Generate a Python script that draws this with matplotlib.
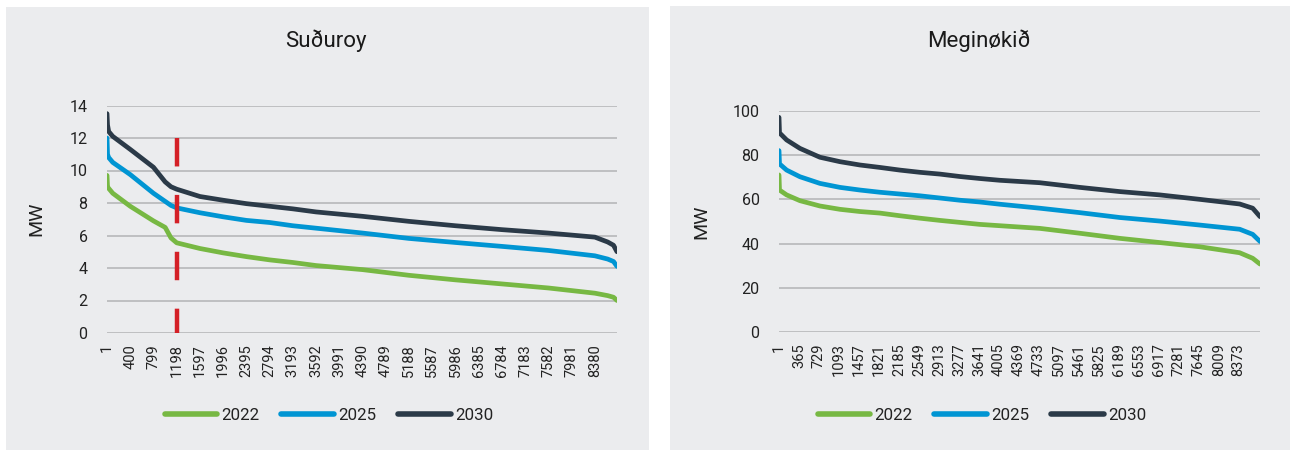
import matplotlib
matplotlib.use("Agg")
import matplotlib.pyplot as plt
from matplotlib.patches import Rectangle
from matplotlib.lines import Line2D

plt.rcParams['font.family'] = ['Roboto', 'DejaVu Sans']

# ---------------- data ----------------
series_names = ["2022", "2025", "2030"]
colors = ["#77B843", "#0095D3", "#2B3A48"]

# Suðuroy (left)
left_title = "Suðuroy"
left_hours = [1, 10, 30, 100, 400, 799, 1000, 1100, 1198, 1597, 1996, 2395, 2794, 3193,
              3592, 4390, 5188, 5986, 6784, 7582, 8380, 8600, 8700, 8760]
left_2022 = [9.7, 9.0, 8.9, 8.6, 7.8, 6.9, 6.5, 5.85, 5.55, 5.2, 4.93, 4.7, 4.5, 4.34,
             4.15, 3.9, 3.55, 3.27, 3.02, 2.77, 2.45, 2.3, 2.2, 2.0]
left_2025 = [12.0, 11.0, 10.8, 10.5, 9.75, 8.6, 8.1, 7.85, 7.7, 7.4, 7.15, 6.93, 6.8, 6.6,
             6.45, 6.15, 5.82, 5.57, 5.33, 5.08, 4.75, 4.55, 4.4, 4.1]
left_2030 = [13.5, 12.8, 12.4, 12.1, 11.3, 10.2, 9.3, 9.0, 8.85, 8.4, 8.17, 7.96, 7.8, 7.64,
             7.45, 7.18, 6.87, 6.6, 6.36, 6.15, 5.9, 5.6, 5.4, 5.0]
left_xticks = [1, 400, 799, 1198, 1597, 1996, 2395, 2794, 3193, 3592, 3991, 4390,
               4789, 5188, 5587, 5986, 6385, 6784, 7183, 7582, 7981, 8380]
left_yticks = [0, 2, 4, 6, 8, 10, 12, 14]
marker_hour = 1198
marker_range = [12, 0]

# Meginøkið (right)
right_title = "Meginøkið"
right_hours = [1, 10, 140, 382, 746, 1110, 1474, 1838, 2202, 2566, 2930, 3294, 3658,
               4022, 4750, 5478, 6206, 6934, 7662, 8390, 8627, 8760]
right_2022 = [71, 64.2, 62, 59.4, 57, 55.5, 54.5, 53.8, 52.6, 51.5, 50.5, 49.6, 48.7,
              48.1, 46.9, 44.7, 42.4, 40.5, 38.6, 35.9, 33.4, 30.8]
right_2025 = [82, 76, 73.2, 70.2, 67.2, 65.4, 64.2, 63.2, 62.4, 61.6, 60.6, 59.6, 58.8,
              57.8, 56, 54, 51.8, 50.2, 48.4, 46.5, 44.2, 41]
right_2030 = [97, 90, 86.8, 83, 79, 77, 75.5, 74.4, 73.2, 72.2, 71.4, 70.3, 69.4,
              68.6, 67.5, 65.4, 63.5, 62, 60, 57.9, 56, 52.2]
right_xticks = [1, 365, 729, 1093, 1457, 1821, 2185, 2549, 2913, 3277, 3641, 4005,
                4369, 4733, 5097, 5461, 5825, 6189, 6553, 6917, 7281, 7645, 8009, 8373]
right_yticks = [0, 20, 40, 60, 80, 100]

# ---------------- figure ----------------
W, H = 1290, 450
fig = plt.figure(figsize=(W / 100, H / 100), dpi=100)
fig.patch.set_facecolor("white")

panel_color = "#EBECEE"
fig.patches.append(Rectangle((6 / W, 0), 643 / W, (H - 7) / H, transform=fig.transFigure,
                             facecolor=panel_color, edgecolor="none", zorder=-5))
fig.patches.append(Rectangle((670 / W, 0), 620 / W, (H - 6) / H, transform=fig.transFigure,
                             facecolor=panel_color, edgecolor="none", zorder=-5))


def make_axes(px_left, px_right, px_bottom, px_top):
    return fig.add_axes([px_left / W, (H - px_bottom) / H,
                         (px_right - px_left) / W, (px_bottom - px_top) / H])


def style_axes(ax, xticks, yticks, ylim, label_x):
    ax.set_facecolor("none")
    ax.patch.set_alpha(0)
    for s in ax.spines.values():
        s.set_visible(False)
    ax.set_xlim(1, 8760)
    ax.set_ylim(*ylim)
    ax.set_yticks(yticks)
    ax.set_xticks(xticks)
    ax.set_xticklabels([str(t) for t in xticks], rotation=90, fontsize=10.5, color="#222222")
    ax.tick_params(axis="x", length=0, pad=8)
    ax.tick_params(axis="y", length=0, pad=14, labelsize=11.5, labelcolor="#222222")
    ax.grid(axis="y", color="#BEBFC1", linewidth=1.4)
    ax.set_axisbelow(True)
    ax.set_ylabel("MW", fontsize=14, color="#222222")
    ax.yaxis.set_label_coords(label_x, 0.5)


lw = 3.4

# left
ax1 = make_axes(107, 617, 333, 105.5)
style_axes(ax1, left_xticks, left_yticks, (0, 14), -0.12)
ax1.plot([marker_hour, marker_hour], marker_range, color="#D42027", linewidth=3.2,
         dashes=(6.4, 6.4), solid_capstyle="butt", zorder=4)
for vals, c in zip([left_2022, left_2025, left_2030], colors):
    ax1.plot(left_hours, vals, color=c, linewidth=lw, solid_capstyle="round",
             solid_joinstyle="round", zorder=3)

# right
ax2 = make_axes(779, 1260, 332.3, 110.7)
style_axes(ax2, right_xticks, right_yticks, (0, 100), -0.142)
for vals, c in zip([right_2022, right_2025, right_2030], colors):
    ax2.plot(right_hours, vals, color=c, linewidth=lw, solid_capstyle="round",
             solid_joinstyle="round", zorder=3)

# titles
fig.text(326 / W, 1 - 41 / H, left_title, ha="center", va="center", fontsize=16, color="#1A1A1A")
fig.text(979 / W, 1 - 41 / H, right_title, ha="center", va="center", fontsize=16, color="#1A1A1A")

# legends
handles = [Line2D([0], [0], color=c, linewidth=4, solid_capstyle="round") for c in colors]
for cx in (329, 982):
    leg = fig.legend(handles, series_names, loc="center", bbox_to_anchor=(cx / W, 1 - 415 / H),
                     ncol=3, frameon=False, fontsize=12.2, handlelength=3.1,
                     handletextpad=0.25, columnspacing=1.3)
    for t in leg.get_texts():
        t.set_color("#222222")

fig.savefig("out.png", dpi=100, facecolor="white")
